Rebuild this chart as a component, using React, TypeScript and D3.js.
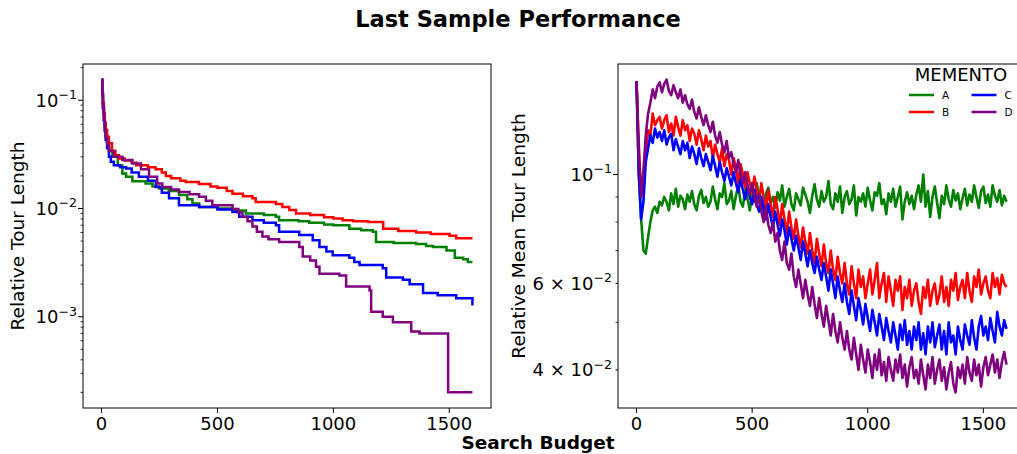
import React from "react";
import * as d3 from "d3";

// ---- data ----
const seriesNames = ["A", "B", "C", "D"];
const seriesColors = ["green", "red", "blue", "purple"];

// left panel: best relative tour length so far (step breakpoints [budget, value])
const bestA: [number, number][] = [
  [0, 0.155], [3, 0.115], [6, 0.09], [10, 0.07], [14, 0.057], [18, 0.047], [24, 0.04], [32, 0.034],
  [47, 0.03], [70, 0.025], [90, 0.021], [106, 0.0196], [133, 0.0178], [190, 0.017], [220, 0.016],
  [248, 0.0153], [290, 0.0145], [334, 0.0133], [370, 0.0122], [392, 0.0111], [421, 0.0103],
  [500, 0.01], [565, 0.0096], [622, 0.009], [700, 0.0087], [752, 0.0084], [766, 0.0078],
  [850, 0.0076], [896, 0.0074], [960, 0.0071], [1000, 0.007], [1069, 0.0065], [1120, 0.0063],
  [1170, 0.0061], [1184, 0.0049], [1260, 0.0048], [1357, 0.0047], [1400, 0.0045], [1430, 0.0044],
  [1488, 0.0041], [1524, 0.0035], [1560, 0.0034], [1580, 0.0032], [1600, 0.0032],
];
const bestB: [number, number][] = [
  [0, 0.155], [3, 0.12], [6, 0.095], [10, 0.075], [14, 0.062], [18, 0.053], [24, 0.046], [32, 0.04],
  [45, 0.034], [60, 0.031], [75, 0.029], [100, 0.0278], [130, 0.0265], [150, 0.0251], [200, 0.024],
  [233, 0.023], [260, 0.0215], [277, 0.02], [300, 0.019], [340, 0.018], [363, 0.0176], [420, 0.0168],
  [470, 0.016], [500, 0.0155], [540, 0.0145], [565, 0.0137], [610, 0.013], [651, 0.0124],
  [665, 0.0115], [752, 0.011], [780, 0.0103], [810, 0.0097], [839, 0.009], [900, 0.0087],
  [960, 0.0083], [1000, 0.0081], [1040, 0.0078], [1085, 0.0076], [1150, 0.0075], [1215, 0.0065],
  [1280, 0.0062], [1357, 0.006], [1420, 0.0058], [1501, 0.0056], [1530, 0.0053], [1600, 0.0053],
];
const bestC: [number, number][] = [
  [0, 0.155], [3, 0.11], [6, 0.085], [10, 0.065], [14, 0.052], [18, 0.043], [24, 0.036], [32, 0.03],
  [40, 0.027], [53, 0.0251], [80, 0.024], [106, 0.0234], [130, 0.0215], [161, 0.0196], [200, 0.018],
  [234, 0.0158], [260, 0.014], [291, 0.0124], [334, 0.0107], [421, 0.0103], [500, 0.0098],
  [565, 0.0093], [594, 0.0084], [651, 0.0078], [700, 0.0074], [752, 0.007], [766, 0.0061],
  [853, 0.0057], [911, 0.0051], [940, 0.0044], [970, 0.004], [997, 0.0037], [1069, 0.0035],
  [1090, 0.0032], [1113, 0.003], [1213, 0.0028], [1228, 0.0023], [1300, 0.0022], [1329, 0.002],
  [1387, 0.00166], [1450, 0.00158], [1530, 0.00148], [1600, 0.00127],
];
const bestD: [number, number][] = [
  [0, 0.155], [3, 0.11], [6, 0.085], [10, 0.066], [14, 0.053], [18, 0.045], [24, 0.039], [32, 0.034],
  [53, 0.03], [90, 0.028], [133, 0.026], [170, 0.023], [205, 0.0196], [240, 0.017], [262, 0.0158],
  [300, 0.015], [334, 0.0142], [380, 0.0135], [421, 0.0128], [450, 0.0118], [478, 0.0107],
  [565, 0.0099], [590, 0.0092], [608, 0.0084], [630, 0.0076], [651, 0.0068], [670, 0.0061],
  [694, 0.0055], [720, 0.0052], [766, 0.0049], [853, 0.0044], [868, 0.0036], [900, 0.0033],
  [925, 0.0029], [940, 0.0025], [1026, 0.0024], [1055, 0.0019], [1156, 0.00175], [1163, 0.00111],
  [1213, 0.001], [1257, 0.00089], [1336, 0.00073], [1372, 0.0007], [1495, 0.0002], [1600, 0.0002],
];

// right panel: relative mean tour length, one value per 10 budget steps (units of 1e-4)
const budget = d3.range(0, 1601, 10);
const meanA = [
  1550, 1000, 810, 700, 690, 745, 800, 845, 860, 835, 880,
  865, 900, 880, 845, 915, 870, 935, 860, 905, 890,
  850, 910, 880, 925, 870, 845, 905, 930, 875, 900,
  860, 880, 945, 890, 850, 915, 900, 960, 870, 885,
  925, 850, 905, 950, 880, 860, 930, 895, 845, 910,
  880, 960, 900, 865, 830, 915, 940, 875, 900, 855,
  920, 885, 950, 860, 900, 935, 870, 845, 915, 890,
  865, 940, 910, 880, 835, 905, 955, 890, 860, 925,
  880, 900, 970, 870, 850, 915, 880, 945, 835, 900,
  925, 870, 890, 950, 825, 900, 880, 915, 860, 940,
  885, 845, 920, 905, 960, 870, 890, 830, 915, 880,
  935, 860, 900, 945, 810, 880, 920, 870, 905, 850,
  910, 950, 880, 1000, 860, 925, 820, 900, 945, 875,
  815, 905, 870, 950, 890, 860, 930, 885, 915, 850,
  895, 935, 865, 910, 880, 950, 900, 855, 925, 945,
  875, 910, 860, 950, 905, 880, 930, 865, 905, 880,
];
const meanB = [
  1550, 1150, 900, 960, 1100, 1230, 1200, 1330, 1260, 1290, 1310,
  1240, 1290, 1320, 1220, 1270, 1200, 1310, 1250, 1200, 1290,
  1230, 1260, 1170, 1240, 1210, 1150, 1230, 1180, 1120, 1200,
  1140, 1170, 1080, 1150, 1100, 1060, 1130, 1040, 1100, 1070,
  1000, 1080, 1030, 960, 1050, 1000, 940, 1010, 960, 920,
  990, 930, 880, 960, 900, 850, 930, 870, 820, 900,
  850, 790, 870, 810, 760, 840, 780, 740, 810, 750,
  710, 780, 730, 690, 760, 700, 660, 740, 690, 650,
  720, 660, 630, 700, 640, 610, 680, 630, 600, 660,
  600, 570, 650, 600, 560, 640, 590, 620, 560, 600,
  640, 570, 610, 660, 560, 600, 630, 550, 620, 580,
  540, 610, 580, 620, 530, 590, 560, 610, 540, 580,
  600, 550, 520, 590, 560, 610, 540, 580, 600, 545,
  570, 620, 550, 590, 540, 610, 580, 630, 555, 590,
  610, 560, 630, 580, 550, 620, 590, 640, 570, 600,
  620, 580, 560, 630, 590, 615, 570, 625, 600, 590,
];
const meanC = [
  1550, 1000, 810, 880, 1060, 1130, 1200, 1160, 1240, 1190, 1220,
  1170, 1230, 1150, 1190, 1210, 1120, 1180, 1140, 1100, 1170,
  1120, 1160, 1080, 1140, 1100, 1050, 1130, 1080, 1040, 1100,
  1060, 1020, 1090, 1040, 990, 1060, 1010, 970, 1030, 990,
  950, 1010, 960, 920, 980, 930, 890, 950, 900, 870,
  930, 870, 840, 900, 850, 810, 870, 820, 780, 840,
  790, 750, 810, 770, 720, 780, 740, 700, 750, 710,
  670, 730, 690, 650, 700, 660, 630, 680, 640, 610,
  660, 620, 580, 640, 600, 560, 620, 580, 550, 600,
  550, 520, 580, 540, 505, 560, 530, 495, 545, 510,
  480, 530, 500, 470, 520, 490, 460, 510, 480, 455,
  500, 470, 440, 495, 460, 505, 450, 480, 440, 490,
  460, 500, 440, 475, 430, 490, 455, 500, 445, 470,
  495, 440, 480, 430, 500, 455, 470, 430, 490, 460,
  440, 495, 470, 450, 505, 465, 440, 490, 515, 470,
  490, 460, 510, 480, 455, 525, 490, 470, 505, 485,
];
const meanD = [
  1550, 1100, 900, 1020, 1200, 1330, 1400, 1490, 1430, 1510, 1540,
  1470, 1530, 1560, 1480, 1450, 1520, 1470, 1430, 1490, 1400,
  1450, 1390, 1360, 1420, 1340, 1300, 1370, 1310, 1260, 1320,
  1260, 1220, 1280, 1200, 1160, 1220, 1150, 1110, 1170, 1080,
  1110, 1050, 1010, 1070, 1000, 960, 1010, 950, 910, 960,
  900, 860, 910, 840, 800, 860, 790, 760, 800, 730,
  760, 700, 670, 730, 660, 640, 690, 620, 590, 640,
  600, 560, 610, 570, 540, 590, 545, 510, 560, 520,
  490, 540, 505, 470, 520, 480, 455, 500, 465, 440,
  480, 440, 420, 465, 430, 400, 450, 420, 395, 440,
  415, 385, 430, 400, 440, 390, 415, 380, 425, 400,
  380, 420, 395, 430, 385, 410, 370, 405, 425, 385,
  400, 375, 420, 390, 365, 410, 385, 425, 375, 400,
  420, 380, 405, 365, 395, 415, 375, 360, 405, 385,
  410, 375, 425, 395, 380, 420, 390, 410, 370, 405,
  425, 390, 410, 430, 395, 420, 385, 415, 435, 410,
];

const xTicks = [0, 500, 1000, 1500];
const leftMajor = [1e-1, 1e-2, 1e-3];
const rightLabeled = [0.1, 0.06, 0.04];

const FONT = "DejaVu Sans, sans-serif";

function logDomain(vals: number[]): [number, number] {
  const [lo, hi] = d3.extent(vals) as [number, number];
  const a = Math.log10(lo);
  const b = Math.log10(hi);
  const m = (b - a) * 0.05;
  return [10 ** (a - m), 10 ** (b + m)];
}

function PowLabel({ x, y, mant, exp }: { x: number; y: number; mant?: number; exp: number }) {
  return (
    <text x={x} y={y} textAnchor="end" fontSize={18} fontFamily={FONT}>
      <tspan>{mant ? `${mant} × 10` : "10"}</tspan>
      <tspan dy={-7.5} fontSize={12.6}>{`−${exp}`}</tspan>
    </text>
  );
}

const L = { x0: 83, x1: 491, y0: 64, y1: 408 };
const R = { x0: 618, x1: 1025, y0: 64, y1: 408 };

export default function App() {
  const best = [bestA, bestB, bestC, bestD];
  const means = [meanA, meanB, meanC, meanD].map((arr) => arr.map((v) => v / 1e4));

  const xDom = [-80, 1680];
  const xL = d3.scaleLinear().domain(xDom).range([L.x0, L.x1]);
  const xR = d3.scaleLinear().domain(xDom).range([R.x0, R.x1]);
  const yL = d3.scaleLog().domain(logDomain(best.flat().map((d) => d[1]))).range([L.y1, L.y0]);
  const yR = d3.scaleLog().domain(logDomain(means.flat())).range([R.y1, R.y0]);

  const stepLine = d3
    .line<[number, number]>()
    .x((d) => xL(d[0]))
    .y((d) => yL(d[1]))
    .curve(d3.curveStepAfter);
  const meanLine = d3
    .line<number>()
    .x((_, i) => xR(budget[i]))
    .y((d) => yR(d));

  // minor ticks
  const [lLo, lHi] = yL.domain();
  const leftMinor: number[] = [];
  for (let e = -5; e <= 0; e++)
    for (let k = 2; k <= 9; k++) {
      const v = k * 10 ** e;
      if (v >= lLo && v <= lHi) leftMinor.push(v);
    }
  const [rLo, rHi] = yR.domain();
  const rightMinor: number[] = [];
  for (let e = -3; e <= 0; e++)
    for (let k = 2; k <= 9; k++) {
      const v = k * 10 ** e;
      if (v >= rLo && v <= rHi && !rightLabeled.some((t) => Math.abs(t - v) < 1e-9)) rightMinor.push(v);
    }

  const xAxis = (sx: d3.ScaleLinear<number, number>, y1: number) =>
    xTicks.map((t) => (
      <g key={t}>
        <line x1={sx(t)} x2={sx(t)} y1={y1} y2={y1 + 5} stroke="#000" strokeWidth={1} />
        <text x={sx(t)} y={y1 + 22} textAnchor="middle" fontSize={18} fontFamily={FONT}>
          {t}
        </text>
      </g>
    ));

  return (
    <svg width={1017} height={454} style={{ position: "absolute", left: 0, top: 0, background: "#fff" }}>
      <text x={518} y={27} textAnchor="middle" fontSize={22.5} fontWeight="bold" fontFamily={FONT}>
        Last Sample Performance
      </text>

      <defs>
        <clipPath id="clipL">
          <rect x={L.x0} y={L.y0} width={L.x1 - L.x0} height={L.y1 - L.y0} />
        </clipPath>
        <clipPath id="clipR">
          <rect x={R.x0} y={R.y0} width={R.x1 - R.x0} height={R.y1 - R.y0} />
        </clipPath>
      </defs>

      {/* left panel */}
      <g clipPath="url(#clipL)">
        {best.map((s, i) => (
          <path key={i} d={stepLine(s) || ""} fill="none" stroke={seriesColors[i]} strokeWidth={2.5} />
        ))}
      </g>
      <rect x={L.x0} y={L.y0} width={L.x1 - L.x0} height={L.y1 - L.y0} fill="none" stroke="#000" strokeWidth={1} />
      {xAxis(xL, L.y1)}
      {leftMinor.map((v) => (
        <line key={v} x1={L.x0} x2={L.x0 - 2.5} y1={yL(v)} y2={yL(v)} stroke="#000" strokeWidth={0.8} />
      ))}
      {leftMajor.map((v) => (
        <g key={v}>
          <line x1={L.x0} x2={L.x0 - 5} y1={yL(v)} y2={yL(v)} stroke="#000" strokeWidth={1} />
          <PowLabel x={L.x0 - 6} y={yL(v) + 6.5} exp={Math.round(-Math.log10(v))} />
        </g>
      ))}
      <text
        transform={`translate(24,${(L.y0 + L.y1) / 2}) rotate(-90)`}
        textAnchor="middle"
        fontSize={18.5}
        fontFamily={FONT}
      >
        Relative Tour Length
      </text>

      {/* right panel */}
      <g clipPath="url(#clipR)">
        {means.map((s, i) => (
          <path key={i} d={meanLine(s) || ""} fill="none" stroke={seriesColors[i]} strokeWidth={2.6} strokeLinejoin="round" />
        ))}
      </g>
      <rect x={R.x0} y={R.y0} width={R.x1 - R.x0} height={R.y1 - R.y0} fill="none" stroke="#000" strokeWidth={1} />
      {xAxis(xR, R.y1)}
      {rightMinor.map((v) => (
        <line key={v} x1={R.x0} x2={R.x0 - 2.5} y1={yR(v)} y2={yR(v)} stroke="#000" strokeWidth={0.8} />
      ))}
      {rightLabeled.map((v) => {
        const e = Math.floor(Math.log10(v) + 1e-9);
        const m = Math.round(v / 10 ** e);
        return (
          <g key={v}>
            <line x1={R.x0} x2={R.x0 - (m === 1 ? 5 : 2.5)} y1={yR(v)} y2={yR(v)} stroke="#000" strokeWidth={1} />
            <PowLabel x={R.x0 - 6} y={yR(v) + 6.5} mant={m === 1 ? undefined : m} exp={-e} />
          </g>
        );
      })}
      <text
        transform={`translate(525,${(R.y0 + R.y1) / 2}) rotate(-90)`}
        textAnchor="middle"
        fontSize={18.5}
        fontFamily={FONT}
      >
        Relative Mean Tour Length
      </text>

      {/* legend */}
      <text x={961} y={81} textAnchor="middle" fontSize={18} fontFamily={FONT}>
        MEMENTO
      </text>
      {seriesNames.map((n, i) => {
        const col = Math.floor(i / 2);
        const row = i % 2;
        const lx = 909 + col * 62.5;
        const ly = 95 + row * 17;
        return (
          <g key={n}>
            <line x1={lx} x2={lx + 25} y1={ly} y2={ly} stroke={seriesColors[i]} strokeWidth={2.5} />
            <text x={lx + 33} y={ly + 4} fontSize={10.5} fontFamily={FONT}>
              {n}
            </text>
          </g>
        );
      })}

      <text x={538} y={449} textAnchor="middle" fontSize={18.5} fontWeight="bold" fontFamily={FONT}>
        Search Budget
      </text>
    </svg>
  );
}
